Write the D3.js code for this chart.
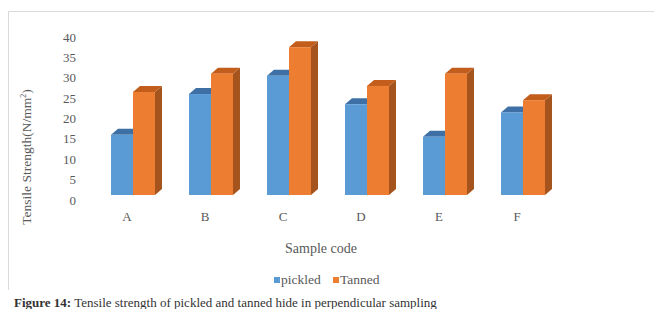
<!DOCTYPE html>
<html>
<head>
<meta charset="utf-8">
<script src="https://cdn.jsdelivr.net/npm/d3@7"></script>
<style>
  body { margin: 0; background: #fff; }
</style>
</head>
<body>
<svg id="chart" width="654" height="309" font-family="'Liberation Serif', 'Times New Roman', Times, serif"></svg>
<script>
// data
var categories = ["A", "B", "C", "D", "E", "F"];
var seriesNames = ["pickled", "Tanned"];
var pickled = [16, 26, 30.5, 23.5, 15.5, 21.5];
var tanned = [26.5, 31, 37.5, 28, 31, 24.5];
var yTicks = [0, 5, 10, 15, 20, 25, 30, 35, 40];

var colors = {
  pickled: { front: "#5b9bd5", top: "#3e70a6", side: "#41719c" },
  Tanned: { front: "#ed7d31", top: "#c25d1c", side: "#a5541d" }
};
var depth = { dx: 7, dy: -6 };

var svg = d3.select("#chart");

// chart frame
svg.append("path")
  .attr("d", "M654,11.5 H8.5 V290")
  .attr("fill", "none")
  .attr("stroke", "#d9d9d9")
  .attr("stroke-width", 1);

var x = d3.scaleBand()
  .domain(categories)
  .range([94, 562])
  .paddingInner(0.436)
  .paddingOuter(0.218);

var xs = d3.scaleBand()
  .domain(seriesNames)
  .range([0, x.bandwidth()]);

var y = d3.scaleLinear()
  .domain([0, 40])
  .range([200, 37]);

// y tick labels
svg.append("g")
  .selectAll("text")
  .data(yTicks)
  .join("text")
  .attr("x", 76)
  .attr("y", d => y(d) + 4.5)
  .attr("text-anchor", "end")
  .attr("font-size", 13)
  .attr("fill", "#595959")
  .text(d => d);

// bars
var rows = categories.map((c, i) => ({ cat: c, values: [
  { name: "pickled", v: pickled[i] },
  { name: "Tanned", v: tanned[i] }
]}));

var floor = y(0) - 5;

var groups = svg.append("g")
  .selectAll("g")
  .data(rows)
  .join("g")
  .attr("transform", d => `translate(${x(d.cat)},0)`);

var bars = groups.selectAll("g")
  .data(d => d.values)
  .join("g");

bars.each(function(d) {
  var g = d3.select(this);
  var x0 = xs(d.name), w = xs.bandwidth();
  var top = y(d.v);
  var c = colors[d.name];
  // side face
  g.append("path")
    .attr("d", `M${x0 + w},${top} L${x0 + w + depth.dx},${top + depth.dy} L${x0 + w + depth.dx},${floor + depth.dy} L${x0 + w},${floor} Z`)
    .attr("fill", c.side);
  // top face
  g.append("path")
    .attr("d", `M${x0},${top} L${x0 + depth.dx},${top + depth.dy} L${x0 + w + depth.dx},${top + depth.dy} L${x0 + w},${top} Z`)
    .attr("fill", c.top);
  // front face
  g.append("rect")
    .attr("x", x0)
    .attr("y", top)
    .attr("width", w)
    .attr("height", floor - top)
    .attr("fill", c.front);
});

// category labels
svg.append("g")
  .selectAll("text")
  .data(categories)
  .join("text")
  .attr("x", d => x(d) + x.bandwidth() / 2 - 6)
  .attr("y", 221)
  .attr("text-anchor", "middle")
  .attr("font-size", 13)
  .attr("fill", "#595959")
  .text(d => d);

// axis titles
svg.append("text")
  .attr("transform", "translate(31,157) rotate(-90)")
  .attr("text-anchor", "middle")
  .attr("font-size", 13.5)
  .attr("fill", "#595959")
  .html("Tensile Strength(N/mm<tspan font-size='8' dy='-5'>2</tspan><tspan dy='5'>)</tspan>");

svg.append("text")
  .attr("x", 321)
  .attr("y", 253)
  .attr("text-anchor", "middle")
  .attr("font-size", 14)
  .attr("fill", "#595959")
  .text("Sample code");

// legend
var legend = svg.append("g");
var legendX = [274, 333];
seriesNames.forEach((s, i) => {
  legend.append("rect")
    .attr("x", legendX[i])
    .attr("y", 277)
    .attr("width", 6)
    .attr("height", 6)
    .attr("fill", colors[s].front);
  legend.append("text")
    .attr("x", legendX[i] + 7)
    .attr("y", 284)
    .attr("font-size", 13.5)
    .attr("fill", "#595959")
    .text(s);
});

// caption
svg.append("text")
  .attr("x", 14)
  .attr("y", 307)
  .attr("font-size", 13)
  .attr("fill", "#333")
  .html("<tspan font-weight='bold'>Figure 14:</tspan> Tensile strength of pickled and tanned hide in perpendicular  sampling");
</script>
</body>
</html>
